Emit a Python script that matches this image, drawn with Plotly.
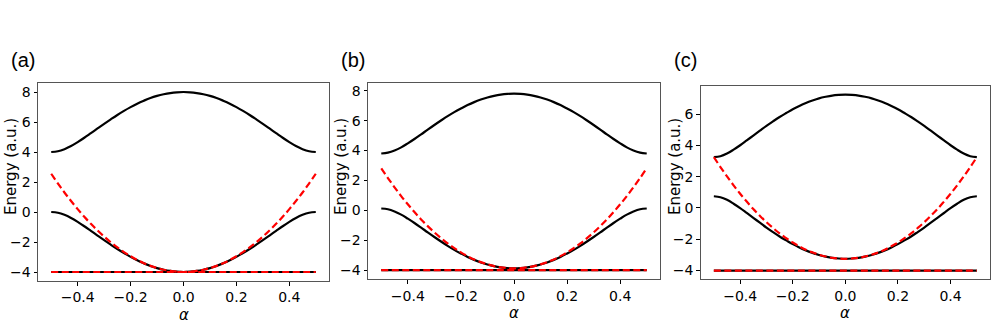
import plotly.graph_objects as go

half_alpha = [0.0, 0.025, 0.05, 0.075, 0.1, 0.125, 0.15, 0.175, 0.2, 0.225, 0.25,
              0.275, 0.3, 0.325, 0.35, 0.375, 0.4, 0.425, 0.45, 0.475, 0.5]
alpha = [-a for a in reversed(half_alpha[1:])] + half_alpha

def sym(half):
    return list(reversed(half[1:])) + list(half)

# panel (a)
a_upper = sym([8.0, 7.98, 7.93, 7.85, 7.74, 7.60, 7.42, 7.22, 6.99, 6.74, 6.47,
               6.18, 5.88, 5.57, 5.26, 4.95, 4.66, 4.40, 4.19, 4.05, 4.0])
a_middle = sym([-4.0, -3.98, -3.93, -3.85, -3.74, -3.60, -3.42, -3.22, -2.99, -2.74, -2.47,
                -2.18, -1.88, -1.57, -1.26, -0.95, -0.66, -0.40, -0.19, -0.05, 0.0])
a_red = sym([-4.0, -3.98, -3.93, -3.85, -3.74, -3.59, -3.41, -3.20, -2.95, -2.67, -2.36,
             -2.02, -1.64, -1.23, -0.79, -0.32, 0.19, 0.73, 1.30, 1.91, 2.55])
a_flat = sym([-4.0] * 21)
# panel (b)
b_upper = sym([7.81, 7.79, 7.74, 7.66, 7.55, 7.41, 7.24, 7.04, 6.81, 6.57, 6.30,
               6.01, 5.71, 5.40, 5.08, 4.77, 4.48, 4.21, 4.00, 3.86, 3.80])
b_middle = sym([-3.89, -3.87, -3.82, -3.74, -3.63, -3.49, -3.32, -3.12, -2.89, -2.65, -2.38,
                -2.09, -1.79, -1.48, -1.16, -0.85, -0.56, -0.29, -0.08, 0.07, 0.12])
b_red = sym([-3.89, -3.87, -3.82, -3.74, -3.62, -3.47, -3.29, -3.07, -2.82, -2.53, -2.22,
             -1.86, -1.48, -1.06, -0.61, -0.12, 0.40, 0.95, 1.54, 2.16, 2.81])
b_flat = sym([-4.0] * 21)
# panel (c)
c_upper = sym([7.25, 7.23, 7.19, 7.11, 7.01, 6.87, 6.71, 6.52, 6.31, 6.07, 5.82,
               5.54, 5.25, 4.94, 4.63, 4.32, 4.01, 3.73, 3.48, 3.31, 3.25])
c_middle = sym([-3.25, -3.23, -3.19, -3.11, -3.01, -2.87, -2.71, -2.52, -2.31, -2.07, -1.82,
                -1.54, -1.25, -0.94, -0.63, -0.32, -0.01, 0.27, 0.52, 0.69, 0.75])
c_red = sym([-3.25, -3.23, -3.19, -3.10, -2.99, -2.84, -2.67, -2.45, -2.21, -1.93, -1.63,
             -1.28, -0.91, -0.50, -0.07, 0.41, 0.91, 1.45, 2.02, 2.62, 3.25])
c_flat = sym([-4.0] * 21)

panels = [
    ("(a)", a_upper, a_middle, a_flat, a_red, [-4.6, 8.6], [8, 6, 4, 2, 0, -2, -4]),
    ("(b)", b_upper, b_middle, b_flat, b_red, [-4.62, 8.5], [8, 6, 4, 2, 0, -2, -4]),
    ("(c)", c_upper, c_middle, c_flat, c_red, [-4.56, 7.8], [6, 4, 2, 0, -2, -4]),
]
x_ticks = [-0.4, -0.2, 0.0, 0.2, 0.4]
x_ticktext = ["\u22120.4", "\u22120.2", "0.0", "0.2", "0.4"]

W, H = 996, 325
# plot-area pixel boxes (left, right, top, bottom)
boxes = [(38, 329, 83, 281), (368, 660, 83.3, 279.3), (700.7, 990, 86, 279.3)]
label_x = [23, 353, 685]
ytitle_x = [11, 341, 675]

fig = go.Figure()
font = dict(family="DejaVu Sans, Liberation Sans, sans-serif", size=14, color="black")
annotations = []
for i, (lab, up, mid, flat, red, yr, yt) in enumerate(panels):
    n = "" if i == 0 else str(i + 1)
    xa, ya = "x" + n, "y" + n
    for ys in (up, mid, flat):
        fig.add_trace(go.Scatter(x=alpha, y=ys, mode="lines", xaxis=xa, yaxis=ya,
                                 line=dict(color="black", width=2.2, shape="spline"),
                                 showlegend=False, hoverinfo="skip"))
    for ys in (red, flat):
        fig.add_trace(go.Scatter(x=alpha, y=ys, mode="lines", xaxis=xa, yaxis=ya,
                                 line=dict(color="#ff0000", width=2.2, dash="7px,3.5px", shape="spline"),
                                 showlegend=False, hoverinfo="skip"))
    l, r, t, b = boxes[i]
    axcommon = dict(showline=True, mirror=True, linecolor="#555555", linewidth=1,
                    ticks="outside", ticklen=3.5, tickcolor="black", tickwidth=1,
                    showgrid=False, zeroline=False, tickfont=font)
    fig.update_layout(**{
        ("xaxis" + n): dict(domain=[l / W, r / W], anchor=ya, range=[-0.55, 0.55],
                            tickvals=x_ticks, ticktext=x_ticktext, ticklabelstandoff=0,
                            **axcommon),
        ("yaxis" + n): dict(domain=[1 - b / H, 1 - t / H], anchor=xa, range=yr,
                            tickvals=yt, ticktext=[("\u2212" + str(-v)) if v < 0 else str(v) for v in yt],
                            **axcommon),
    })
    annotations.append(dict(text=lab, x=label_x[i] / W, y=1 - 60 / H, xref="paper", yref="paper",
                            showarrow=False, xanchor="center", yanchor="middle",
                            font=dict(family="Liberation Sans, Arial, sans-serif", size=20, color="black")))
    annotations.append(dict(text="Energy (a.u.)", x=ytitle_x[i] / W, y=1 - 167 / H,
                            xref="paper", yref="paper", showarrow=False, textangle=-90,
                            xanchor="center", yanchor="middle",
                            font=dict(family="DejaVu Sans, sans-serif", size=15, color="black")))
    annotations.append(dict(text="<i>\u03b1</i>", x=((l + r) / 2) / W, y=1 - (b + 22.5) / H,
                            xref="paper", yref="paper", showarrow=False,
                            xanchor="center", yanchor="top",
                            font=dict(family="DejaVu Sans, sans-serif", size=15, color="black")))

fig.update_layout(width=W, height=H, margin=dict(l=0, r=0, t=0, b=0),
                  paper_bgcolor="white", plot_bgcolor="white", annotations=annotations)
fig.write_html("out.html", config={"displayModeBar": False},
               post_script="document.body.style.margin='0';")
